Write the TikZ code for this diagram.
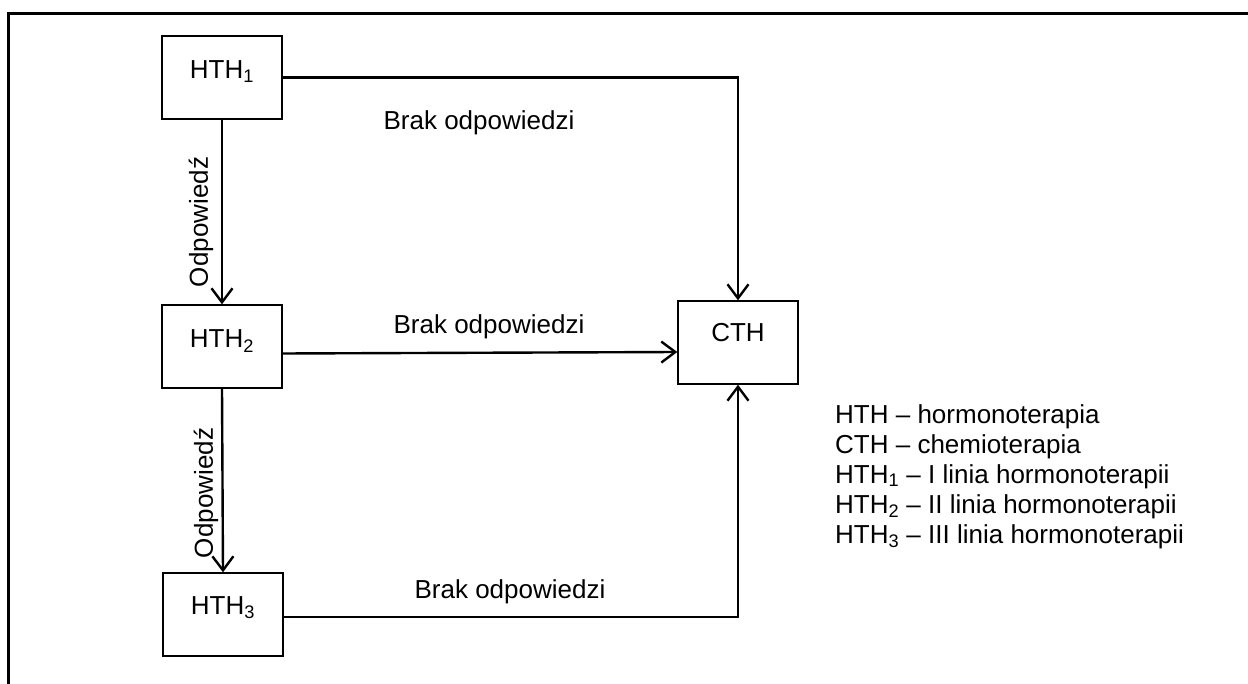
\documentclass[tikz,border=0pt]{standalone}
\usepackage{fontspec}
\setmainfont{Liberation Sans}
\usetikzlibrary{arrows.meta,calc}
\begin{document}
\begin{tikzpicture}[x=1pt,y=-1pt,
  box/.style={draw,line width=1.4pt,minimum width=120pt,minimum height=83pt,inner sep=0pt},
  txt/.style={font=\fontsize{26}{30}\selectfont,inner sep=0pt},
  arr/.style={line width=2.4pt,-{Straight Barb[length=14pt,width=21pt,line width=2.4pt]}},
  conn/.style={line width=2.4pt}]
\useasboundingbox (0,0) rectangle (1248,684);
\fill[white] (0,0) rectangle (1248,684);
% frame
\coordinate (fa) at (8,684);
\coordinate (fb) at (8,14);
\coordinate (fc) at (1248,14);
\draw[line width=3pt] (fa) -- (fb) -- (fc);
% boxes
\node[box] (h1) at (222,77.5) {};
\node[box] (h2) at (222,346.5) {};
\node[box] (h3) at (223,614.5) {};
\node[box] (c) at (738,342.5) {};
\node[txt] (h1t) at (222,72) {HTH\textsubscript{1}};
\node[txt] (h2t) at (222,341) {HTH\textsubscript{2}};
\node[txt] (h3t) at (223,608) {HTH\textsubscript{3}};
\node[txt] (ct) at (738,333) {CTH};
% connectors
\draw[arr] (h1.east) -| (c.north);
\draw[arr] ($(h2.east)+(0,7)$) -- ($(c.west)+(0,9.5)$);
\draw[arr] ($(h3.east)+(0,2.5)$) -| (c.south);
\draw[arr] (h1.south) -- (h2.north);
\draw[arr] (h2.south) -- (h3.north);
% labels
\node[txt] (l1) at (479,123) {Brak odpowiedzi};
\node[txt] (l2) at (489,327) {Brak odpowiedzi};
\node[txt] (l3) at (510,592) {Brak odpowiedzi};
\node[txt,rotate=90] (o1) at (201,222) {Odpowiedź};
\node[txt,rotate=90] (o2) at (206,493) {Odpowiedź};
% legend
\node[txt,align=left,anchor=north west] (leg) at (835,404) {HTH -- hormonoterapia\\
CTH -- chemioterapia\\
HTH\textsubscript{1} -- I linia hormonoterapii\\
HTH\textsubscript{2} -- II linia hormonoterapii\\
HTH\textsubscript{3} -- III linia hormonoterapii};
\end{tikzpicture}
\end{document}
